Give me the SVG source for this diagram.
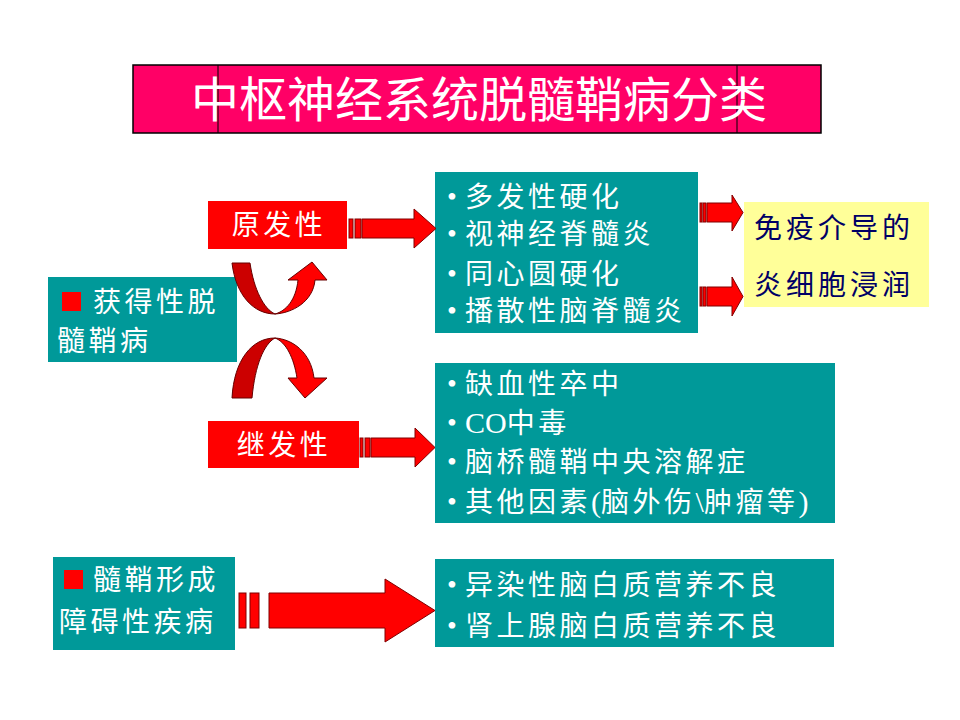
<svg xmlns="http://www.w3.org/2000/svg" width="960" height="720" viewBox="0 0 960 720">
<defs>
<style>
.teal{fill:#009999;}
.red{fill:#FF0000;}
.wt{fill:#FFFFFF;font-family:"Noto Sans CJK SC","Noto Sans",sans-serif;font-size:28px;letter-spacing:3.5px;}
.lat{font-family:"Liberation Serif","Noto Sans CJK SC",serif;font-size:30px;letter-spacing:0px;}
.bl{fill:#FFFFFF;font-family:"Liberation Serif",serif;font-size:28px;}
.nv{fill:#000066;font-family:"Noto Sans CJK SC","Noto Sans",sans-serif;font-size:28px;letter-spacing:4px;}
.arr{fill:#FF0000;stroke:#800000;stroke-width:1;}
.dk{fill:#CC0000;stroke:#660000;stroke-width:1;}
.rf{fill:#FF0000;stroke:#660000;stroke-width:1;}
</style>
</defs>
<rect width="960" height="720" fill="#FFFFFF"/>

<g id="title">
<rect x="133" y="65" width="688" height="68" fill="#FF0066" stroke="#000000" stroke-width="1.5"/>
<line x1="218" y1="65" x2="218" y2="133" stroke="#000000" stroke-width="1"/>
<line x1="737" y1="65" x2="737" y2="133" stroke="#000000" stroke-width="1"/>
<text x="479" y="117" text-anchor="middle" fill="#FFFFFF" font-family="Noto Sans CJK SC, Noto Sans, sans-serif" font-size="48">中枢神经系统脱髓鞘病分类</text>
</g>

<g id="acquired">
<rect class="teal" x="48" y="277" width="189" height="85"/>
<rect class="red" x="62" y="292" width="19" height="19"/>
<text class="wt" x="93" y="312">获得性脱</text>
<text class="wt" x="57" y="351">髓鞘病</text>
</g>

<g id="primary">
<rect class="red" x="208" y="201" width="139" height="48"/>
<text class="wt" x="279" y="235" text-anchor="middle">原发性</text>
</g>

<g id="secondary">
<rect class="red" x="208" y="421" width="151" height="47"/>
<text class="wt" x="284" y="455" text-anchor="middle">继发性</text>
</g>

<g id="primary-list">
<rect class="teal" x="435" y="172" width="263" height="161"/>
<text class="bl" x="447" y="206">•</text>
<text class="wt" x="465" y="207">多发性硬化</text>
<text class="bl" x="447" y="243">•</text>
<text class="wt" x="465" y="244">视神经脊髓炎</text>
<text class="bl" x="447" y="283">•</text>
<text class="wt" x="465" y="284">同心圆硬化</text>
<text class="bl" x="447" y="320">•</text>
<text class="wt" x="465" y="321">播散性脑脊髓炎</text>
</g>

<g id="immune">
<rect x="744" y="202" width="185" height="105" fill="#FFFF99"/>
<text class="nv" x="754" y="238">免疫介导的</text>
<text class="nv" x="754" y="295">炎细胞浸润</text>
</g>

<g id="secondary-list">
<rect class="teal" x="435" y="363" width="400" height="160"/>
<text class="bl" x="447" y="393">•</text>
<text class="wt" x="465" y="394">缺血性卒中</text>
<text class="bl" x="447" y="432">•</text>
<text class="wt" x="465" y="433"><tspan class="lat">CO</tspan>中毒</text>
<text class="bl" x="447" y="471">•</text>
<text class="wt" x="465" y="472">脑桥髓鞘中央溶解症</text>
<text class="bl" x="447" y="511">•</text>
<text class="wt" x="465" y="512">其他因素<tspan class="lat">(</tspan>脑外伤<tspan class="lat">\</tspan>肿瘤等<tspan class="lat">)</tspan></text>
</g>

<g id="dysmyelin">
<rect class="teal" x="53" y="557" width="182" height="93"/>
<rect class="red" x="64" y="570" width="19" height="19"/>
<text class="wt" x="93" y="590">髓鞘形成</text>
<text class="wt" x="59" y="632">障碍性疾病</text>
</g>

<g id="dys-list">
<rect class="teal" x="435" y="559" width="399" height="88"/>
<text class="bl" x="447" y="594">•</text>
<text class="wt" x="465" y="595">异染性脑白质营养不良</text>
<text class="bl" x="447" y="635">•</text>
<text class="wt" x="465" y="636">肾上腺脑白质营养不良</text>
</g>

<g id="connectors">
<rect class="arr" x="349" y="219" width="4" height="19"/>
<rect class="arr" x="355" y="219" width="6" height="19"/>
<path class="arr" d="M362,219 L414,219 L414,209 L436,228.5 L414,248 L414,238 L362,238 Z"/>
<rect class="arr" x="360" y="438" width="3" height="19"/>
<rect class="arr" x="365" y="438" width="5" height="19"/>
<path class="arr" d="M371,438 L415,438 L415,428 L435,447.5 L415,467 L415,457 L371,457 Z"/>
<rect class="arr" x="700" y="203" width="2" height="19"/>
<rect class="arr" x="703" y="203" width="3" height="19"/>
<path class="arr" d="M707,203 L732,203 L732,195 L743,212.5 L732,231 L732,222 L707,222 Z"/>
<rect class="arr" x="700" y="287" width="2" height="19"/>
<rect class="arr" x="703" y="287" width="3" height="19"/>
<path class="arr" d="M707,287 L732,287 L732,277 L743,296.5 L732,316 L732,306 L707,306 Z"/>
<rect class="arr" x="239" y="593" width="7" height="35"/>
<rect class="arr" x="250" y="593" width="9" height="35"/>
<path class="arr" d="M269,593 L385,593 L385,579 L435,610.5 L385,642 L385,628 L269,628 Z"/>
<g id="curve-up">
<path class="dk" d="M232,263 L250,263 C254,290 264,309 275,314 C254,314 236,296 232,263 Z"/>
<path class="rf" d="M275,314 C292,313 313,302 315,280 L327,280 L312,262 L288,280 L298,280 C296,300 286,311 275,314 Z"/>
</g>
<g id="curve-down">
<path class="dk" d="M232,398 L252,398 C255,365 264,344 275,338 C252,338 234,360 232,398 Z"/>
<path class="rf" d="M275,338 C292,339 311,352 314,378 L327,378 L305,398 L288,378 L297,378 C294,358 286,342 275,338 Z"/>
</g>
</g>
</svg>
